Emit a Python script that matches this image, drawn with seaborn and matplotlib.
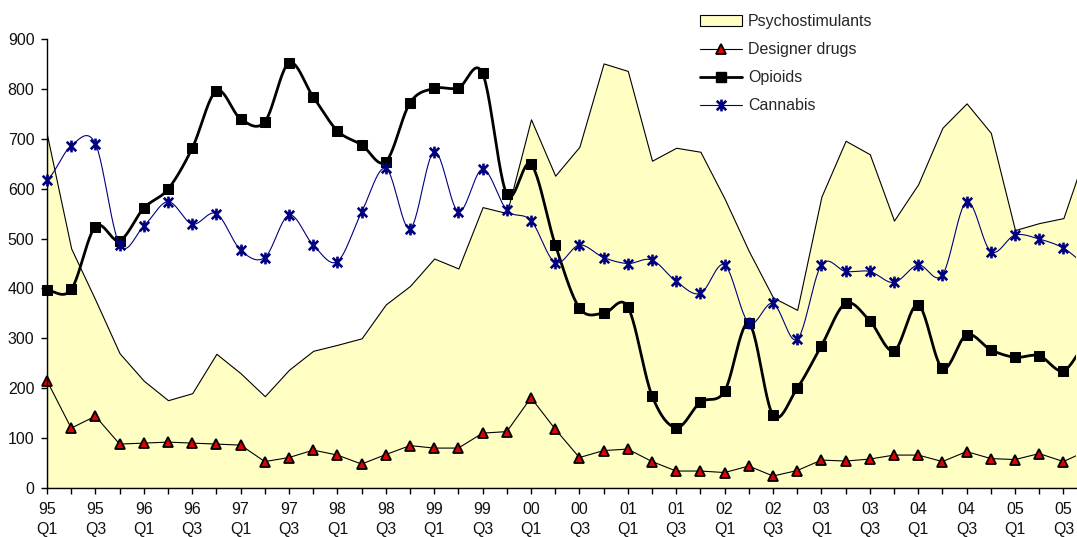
import matplotlib
matplotlib.use('Agg')
import matplotlib.pyplot as plt
import numpy as np
import pandas as pd
import seaborn as sns
from matplotlib.lines import Line2D
from matplotlib.patches import Patch
from matplotlib.path import Path

# quarterly series, 95 Q1 .. 05 Q4
years = ['95', '96', '97', '98', '99', '00', '01', '02', '03', '04', '05']
quarters = ['Q1', 'Q2', 'Q3', 'Q4']
periods = [y + '\n' + q for y in years for q in quarters]

psychostimulants = [708, 480, 377, 270, 215, 176, 190, 269, 230, 184, 237, 275,
                    287, 300, 368, 405, 460, 440, 563, 551, 739, 626, 684, 851,
                    836, 656, 682, 674, 580, 475, 382, 357, 584, 696, 669, 536,
                    609, 722, 771, 712, 517, 531, 541, 683]
designer_drugs = [215, 120, 144, 88, 90, 92, 90, 88, 86, 53, 61, 76,
                  66, 48, 67, 85, 80, 80, 110, 113, 181, 118, 61, 75,
                  78, 53, 34, 34, 31, 44, 24, 35, 56, 54, 58, 66,
                  66, 53, 73, 59, 57, 69, 53, 75]
opioids = [396, 398, 524, 496, 561, 599, 681, 796, 740, 734, 852, 784,
           716, 688, 654, 772, 801, 802, 831, 589, 649, 488, 361, 350,
           363, 185, 121, 172, 194, 330, 146, 200, 285, 370, 335, 275,
           367, 240, 307, 277, 262, 265, 235, 292]
cannabis = [618, 686, 690, 488, 525, 574, 529, 550, 477, 462, 547, 487,
            454, 553, 641, 520, 674, 554, 639, 557, 536, 452, 487, 462,
            450, 457, 414, 390, 447, 331, 370, 298, 447, 434, 434, 412,
            447, 427, 574, 474, 507, 499, 481, 447]

df = pd.DataFrame({'t': np.arange(len(periods)), 'psycho': psychostimulants,
                   'designer': designer_drugs, 'opioids': opioids,
                   'cannabis': cannabis})


def smooth(vals, n=24):
    # catmull-rom, close to excel's "smoothed line"
    p = np.asarray(vals, float)
    pad = np.r_[p[0], p, p[-1]]
    xs, ys = [], []
    for i in range(len(p) - 1):
        t = np.linspace(0, 1, n, endpoint=False)
        m0 = (pad[i + 2] - pad[i]) / 2
        m1 = (pad[i + 3] - pad[i + 1]) / 2
        h00 = 2 * t**3 - 3 * t**2 + 1
        h10 = t**3 - 2 * t**2 + t
        h01 = -2 * t**3 + 3 * t**2
        h11 = t**3 - t**2
        ys.append(h00 * p[i] + h10 * m0 + h01 * p[i + 1] + h11 * m1)
        xs.append(i + t)
    xs.append([len(p) - 1])
    ys.append([p[-1]])
    return pd.DataFrame({'t': np.concatenate(xs), 'v': np.concatenate(ys)})


# excel style star: an X with a vertical bar through it
star = Path([(0, -1), (0, 1), (-0.8, -0.8), (0.8, 0.8), (-0.8, 0.8), (0.8, -0.8)],
            [Path.MOVETO, Path.LINETO] * 3)

sns.set_theme(style='white')
plt.rcParams['font.family'] = ['Liberation Sans', 'DejaVu Sans']

fig = plt.figure(figsize=(10.77, 5.37), dpi=100)
ax = fig.add_axes([47 / 1077, 49 / 537, 1028.5 / 1077, 449 / 537])

yellow = '#FFFFC4'
navy = '#000080'
red = '#E00000'

ax.fill_between(df['t'], df['psycho'], 0, facecolor=yellow, edgecolor='black',
                linewidth=0.8, zorder=1)

sns.lineplot(x='t', y='designer', data=df, ax=ax, color='black', linewidth=0.8,
             zorder=2)
sns.lineplot(x='t', y='designer', data=df, ax=ax, color='black', linestyle='none',
             marker='^', markersize=7.5, markerfacecolor=red,
             markeredgecolor='black', markeredgewidth=1.3, zorder=2, clip_on=False)

op = smooth(opioids)
sns.lineplot(x='t', y='v', data=op, ax=ax, color='black', linewidth=2.0,
             sort=False, estimator=None, zorder=3)
sns.lineplot(x='t', y='opioids', data=df, ax=ax, color='black', linestyle='none',
             marker='s', markersize=7, markeredgecolor='black', zorder=3,
             clip_on=False)

cb = smooth(cannabis)
sns.lineplot(x='t', y='v', data=cb, ax=ax, color=navy, linewidth=0.8,
             sort=False, estimator=None, zorder=4)
sns.lineplot(x='t', y='cannabis', data=df, ax=ax, color=navy, linestyle='none',
             marker=star, markersize=8.5, markeredgecolor=navy,
             markeredgewidth=1.9, zorder=4, clip_on=False)

ax.set_yticks(range(0, 901, 100))
ax.set_xticks(range(len(periods)))
ax.set_xticklabels([lab if i % 2 == 0 else '' for i, lab in enumerate(periods)])
ax.set_xlim(0, 42.5)
ax.set_ylim(0, 900)
ax.set_xlabel('')
ax.set_ylabel('')
ax.tick_params(axis='both', which='major', labelsize=11.5, length=4, width=1,
               direction='out', color='black', labelcolor='#111111')
ax.tick_params(axis='x', pad=6)
ax.tick_params(axis='y', pad=5)
for lab in ax.get_xticklabels():
    lab.set_linespacing(1.4)
ax.xaxis.set_ticks_position('bottom')
ax.yaxis.set_ticks_position('left')
for s in ['top', 'right']:
    ax.spines[s].set_visible(False)
for s in ['left', 'bottom']:
    ax.spines[s].set_color('black')
    ax.spines[s].set_linewidth(1.0)
ax.grid(False)

handles = [
    Patch(facecolor=yellow, edgecolor='black', linewidth=0.8, label='Psychostimulants'),
    Line2D([], [], color='black', linewidth=0.8, marker='^', markersize=7.5,
           markerfacecolor=red, markeredgecolor='black', markeredgewidth=1.3,
           label='Designer drugs'),
    Line2D([], [], color='black', linewidth=2.0, marker='s', markersize=7,
           label='Opioids'),
    Line2D([], [], color=navy, linewidth=0.8, marker=star, markersize=8.5,
           markeredgewidth=1.9, label='Cannabis'),
]
fig.legend(handles=handles, loc='upper left', bbox_to_anchor=(700 / 1077, 1 - 14 / 537),
           frameon=False, fontsize=11.5, borderpad=0, borderaxespad=0,
           handlelength=2.6, handletextpad=0.4, labelspacing=0.82)

fig.savefig('out.png', dpi=100)
